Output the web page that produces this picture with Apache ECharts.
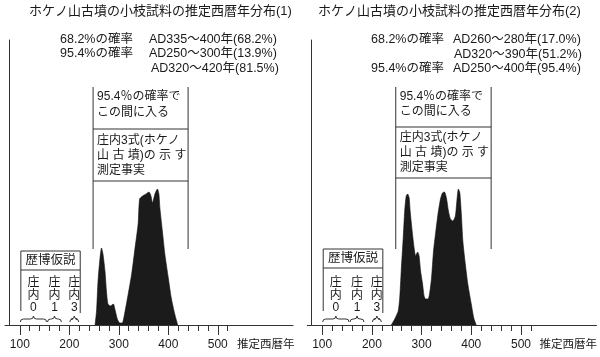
<!DOCTYPE html>
<html><head><meta charset="utf-8">
<script src="https://cdn.jsdelivr.net/npm/echarts@6/dist/echarts.min.js"></script>
<style>html,body{margin:0;padding:0;background:#fff}#c{width:600px;height:357px}</style>
</head><body><div id="c"></div>
<script>
const FONT = "'Liberation Sans','Noto Sans CJK JP',sans-serif";
const titles = ['ホケノ山古墳の小枝試料の推定西暦年分布(1)', 'ホケノ山古墳の小枝試料の推定西暦年分布(2)'];
const majorTicks = [100, 200, 300, 400, 500];
const minorTicks = [120,140,160,180,220,240,260,280,320,340,360,380,420,440,460,480,520];
const axisName = '推定西暦年';
// estimated relative probability (year, density)
const dist1 = [[252,0],[255,14],[258,44],[262,67],[265,77],[268,71],[272,54],[275,34],[278,21],[283,19],[289,21],[292,16],[297,6],[302,2],[307,2],[312,12],[319,31],[326,51],[332,74],[339,101],[342,126],[348,129],[355,131],[361,133],[365,129],[368,122],[373,131],[378,136],[381,131],[383,117],[388,94],[393,71],[400,47],[406,27],[413,11],[419,0]];
const dist2 = [[239,0],[246,6],[253,14],[256,27],[259,54],[263,87],[266,114],[269,129],[272,131],[275,127],[277,114],[281,94],[285,77],[288,69],[292,73],[295,69],[298,54],[302,41],[305,29],[308,26],[313,26],[316,31],[320,47],[324,74],[328,91],[333,111],[338,126],[342,132],[346,133],[350,127],[354,114],[358,106],[363,104],[368,109],[371,124],[374,136],[377,132],[380,111],[383,84],[388,61],[393,41],[400,21],[405,7],[410,0]];
const phaseNames = ['庄内0', '庄内1', '庄内3'];
const phaseStart = [100, 155, 200];
const phaseEnd = [155, 185, 220];
const hypothesisLabel = '歴博仮説';
const rangeYears = [248, 440];
const rangeText = ['95.4％の確率で', 'この間に入る'];
const factText = ['庄内3式(ホケノ', '山 古 墳)の 示 す', '測定事実'];
const notes1 = [['68.2%の確率', 'AD335～400年(68.2%)'], ['95.4%の確率', 'AD250～300年(13.9%)'], ['', 'AD320～420年(81.5%)']];
const notes2 = [['68.2%の確率', 'AD260～280年(17.0%)'], ['', 'AD320～390年(51.2%)'], ['95.4%の確率', 'AD250～400年(95.4%)']];

const INK = '#1a1a1a';
const LINE = '#333';
const layout = [
  {left: 5, width: 288, nameGap: -56, titleX: 29, noteX: [60, 149], noteY: [40, 54, 69], noteShift: [0,0,2],
   hl: [129, 181], txtY: [97, 113, 141, 156, 171], boxTop: -74, boxDiv: -55},
  {left: 307.3, width: 290, nameGap: -57, titleX: 318, noteX: [371, 453], noteY: [40, 55, 69], noteShift: [0,1,0],
   hl: [127, 178], txtY: [97, 112, 138, 153, 168], boxTop: -76, boxDiv: -57}
];

const chart = echarts.init(document.getElementById('c'), null, {renderer: 'canvas'});
const grids = [], xAxes = [], yAxes = [], series = [], graphics = [], titleArr = [];
[dist1, dist2].forEach((dist, g) => {
  const L = layout[g];
  grids.push({left: L.left, width: L.width, top: 40, height: 285});
  titleArr.push({text: titles[g], left: L.titleX, top: 5, padding: 0,
    textStyle: {fontSize: 13, fontWeight: 'normal', color: INK, fontFamily: FONT}});
  xAxes.push({gridIndex: g, type: 'value', min: 70, max: 652, position: 'bottom',
    axisLine: {show: true, lineStyle: {color: LINE, width: 1}},
    axisTick: {show: true, customValues: majorTicks, length: 10, lineStyle: {color: LINE, width: 1}},
    axisLabel: {show: true, customValues: majorTicks, margin: 14, fontSize: 12, color: INK, fontFamily: FONT},
    splitLine: {show: false},
    name: axisName, nameLocation: 'end', nameGap: L.nameGap,
    nameTextStyle: {fontSize: 11.5, color: INK, fontFamily: FONT, align: 'left', verticalAlign: 'top', padding: [14, 0, 0, 0]}
  });
  xAxes.push({gridIndex: g, type: 'value', min: 70, max: 652, position: 'bottom',
    axisLine: {show: false},
    axisTick: {show: true, customValues: minorTicks, length: 6, lineStyle: {color: LINE, width: 1}},
    axisLabel: {show: false}, splitLine: {show: false}
  });
  yAxes.push({gridIndex: g, type: 'value', min: 0, max: 285, offset: -4,
    axisLine: {show: true, lineStyle: {color: LINE, width: 1}},
    axisTick: {show: false}, axisLabel: {show: false}, splitLine: {show: false}});
  series.push({type: 'line', xAxisIndex: g * 2, yAxisIndex: g, data: dist, showSymbol: false, symbol: 'none',
    smooth: 0.2, lineStyle: {color: '#111', width: 0.6}, areaStyle: {color: '#1b1b1b', opacity: 1}, silent: true, z: 3});
  // hypothesis box with phases and braces
  series.push({type: 'custom', xAxisIndex: g * 2, yAxisIndex: g, silent: true, z: 4,
    data: phaseStart.map((s, i) => [s, phaseEnd[i], i]),
    renderItem: (params, api) => {
      const p0 = api.coord([api.value(0), 0]);
      const p1 = api.coord([api.value(1), 0]);
      const base = p0[1];
      const x0 = p0[0] + 0.5, x1 = p1[0] - 0.5, xm = (x0 + x1) / 2;
      const yb = base - 3, ym = base - 6, yt = base - 9;
      const children = [{type: 'path', shape: {pathData:
        `M${x0},${yb} Q${x0},${ym} ${x0+3},${ym} L${xm-3},${ym} Q${xm},${ym} ${xm},${yt} Q${xm},${ym} ${xm+3},${ym} L${x1-3},${ym} Q${x1},${ym} ${x1},${yb}`},
        style: {fill: 'none', stroke: LINE, lineWidth: 1}}];
      const name = phaseNames[api.value(2)];
      const ys = [base - 42, base - 29, base - 17];
      name.split('').forEach((ch, k) => children.push({type: 'text', x: xm, y: ys[k],
        style: {text: ch, fontSize: 12, fontFamily: FONT, fill: INK, align: 'center', verticalAlign: 'middle'}}));
      if (params.dataIndex === 0) {
        const bl = api.coord([phaseStart[0], 0])[0] + 1;
        const br = api.coord([phaseEnd[phaseEnd.length - 1], 0])[0] + 1;
        const top = base + L.boxTop, div = base + L.boxDiv;
        const st = {stroke: LINE, lineWidth: 1};
        children.push({type: 'line', shape: {x1: bl, y1: top, x2: br, y2: top}, style: st});
        children.push({type: 'line', shape: {x1: bl, y1: div, x2: br, y2: div}, style: st});
        children.push({type: 'line', shape: {x1: bl, y1: top, x2: bl, y2: base - 14}, style: st});
        children.push({type: 'line', shape: {x1: br, y1: top, x2: br, y2: base - 12}, style: st});
        children.push({type: 'text', x: (bl + br) / 2, y: (top + div) / 2,
          style: {text: hypothesisLabel, fontSize: 12.5, fontFamily: FONT, fill: INK, align: 'center', verticalAlign: 'middle'}});
      }
      return {type: 'group', children};
    }
  });
  // 95.4% range box
  series.push({type: 'custom', xAxisIndex: g * 2, yAxisIndex: g, silent: true, z: 4,
    data: [[rangeYears[0], rangeYears[1]]],
    renderItem: (params, api) => {
      const a = api.coord([api.value(0), 0])[0];
      const b = api.coord([api.value(1), 0])[0];
      const st = {stroke: LINE, lineWidth: 1};
      const ch = [
        {type: 'line', shape: {x1: a, y1: 87, x2: a, y2: 249}, style: st},
        {type: 'line', shape: {x1: b, y1: 87, x2: b, y2: 249}, style: st},
        {type: 'line', shape: {x1: a, y1: L.hl[0], x2: b, y2: L.hl[0]}, style: st},
        {type: 'line', shape: {x1: a, y1: L.hl[1], x2: b, y2: L.hl[1]}, style: st}
      ];
      rangeText.concat(factText).forEach((t, k) => ch.push({type: 'text', x: a + 4, y: L.txtY[k],
        style: {text: t, fontSize: 12, fontFamily: FONT, fill: INK, align: 'left', verticalAlign: 'middle'}}));
      return {type: 'group', children: ch};
    }
  });
  const notes = g === 0 ? notes1 : notes2;
  notes.forEach((n, k) => {
    if (n[0]) graphics.push({type: 'text', x: L.noteX[0], y: L.noteY[k],
      style: {text: n[0], fontSize: 12.5, fontFamily: FONT, fill: INK, verticalAlign: 'middle'}});
    graphics.push({type: 'text', x: L.noteX[1] + L.noteShift[k], y: L.noteY[k],
      style: {text: n[1], fontSize: 12.5, fontFamily: FONT, fill: INK, verticalAlign: 'middle'}});
  });
});

chart.setOption({
  animation: false,
  backgroundColor: '#fff',
  title: titleArr,
  grid: grids,
  xAxis: xAxes,
  yAxis: yAxes,
  series: series,
  graphic: graphics
});
</script></body></html>
